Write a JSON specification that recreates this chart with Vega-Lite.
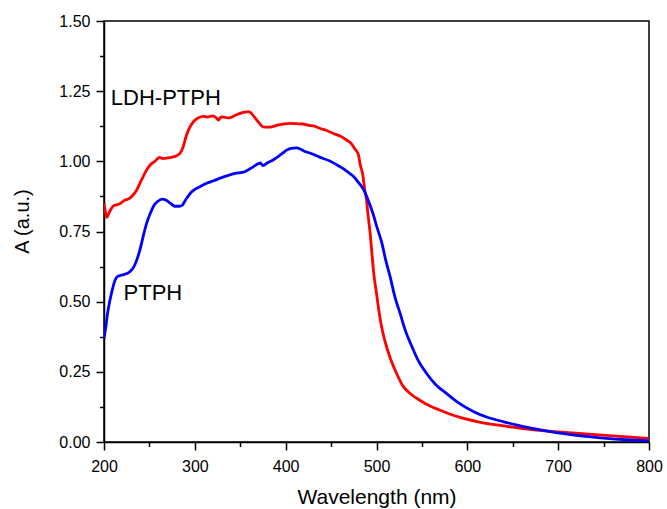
{
  "$schema": "https://vega.github.io/schema/vega-lite/v6.json",
  "width": 545,
  "height": 421,
  "autosize": {"type": "none"},
  "padding": {"left": 104, "top": 21, "right": 18, "bottom": 67},
  "background": "white",
  "config": {
    "view": {"stroke": "black", "strokeWidth": 1.5},
    "axis": {
      "domainColor": "black", "domainWidth": 1.5, "tickColor": "black", "tickWidth": 1.5,
      "labelColor": "black", "titleColor": "black", "labelFont": "Liberation Sans",
      "titleFont": "Liberation Sans", "titleFontWeight": "normal", "grid": false
    }
  },
  "layer": [
    {
      "data": {
        "values": [
          {"w":200,"A":0.85,"s":"LDH-PTPH"},{"w":201,"A":0.83,"s":"LDH-PTPH"},{"w":203,"A":0.80,"s":"LDH-PTPH"},{"w":206,"A":0.82,"s":"LDH-PTPH"},{"w":210,"A":0.84,"s":"LDH-PTPH"},{"w":214,"A":0.845,"s":"LDH-PTPH"},{"w":218,"A":0.85,"s":"LDH-PTPH"},{"w":222,"A":0.86,"s":"LDH-PTPH"},{"w":228,"A":0.868,"s":"LDH-PTPH"},{"w":232,"A":0.88,"s":"LDH-PTPH"},{"w":236,"A":0.898,"s":"LDH-PTPH"},{"w":240,"A":0.925,"s":"LDH-PTPH"},{"w":243,"A":0.945,"s":"LDH-PTPH"},{"w":247,"A":0.97,"s":"LDH-PTPH"},{"w":251,"A":0.988,"s":"LDH-PTPH"},{"w":256,"A":1.0,"s":"LDH-PTPH"},{"w":261,"A":1.014,"s":"LDH-PTPH"},{"w":265,"A":1.01,"s":"LDH-PTPH"},{"w":270,"A":1.012,"s":"LDH-PTPH"},{"w":275,"A":1.015,"s":"LDH-PTPH"},{"w":280,"A":1.02,"s":"LDH-PTPH"},{"w":284,"A":1.03,"s":"LDH-PTPH"},{"w":287,"A":1.05,"s":"LDH-PTPH"},{"w":290,"A":1.085,"s":"LDH-PTPH"},{"w":293,"A":1.111,"s":"LDH-PTPH"},{"w":296,"A":1.13,"s":"LDH-PTPH"},{"w":299,"A":1.143,"s":"LDH-PTPH"},{"w":304,"A":1.155,"s":"LDH-PTPH"},{"w":309,"A":1.16,"s":"LDH-PTPH"},{"w":314,"A":1.158,"s":"LDH-PTPH"},{"w":320,"A":1.162,"s":"LDH-PTPH"},{"w":324,"A":1.153,"s":"LDH-PTPH"},{"w":326,"A":1.147,"s":"LDH-PTPH"},{"w":329,"A":1.158,"s":"LDH-PTPH"},{"w":333,"A":1.157,"s":"LDH-PTPH"},{"w":338,"A":1.155,"s":"LDH-PTPH"},{"w":342,"A":1.16,"s":"LDH-PTPH"},{"w":346,"A":1.166,"s":"LDH-PTPH"},{"w":350,"A":1.171,"s":"LDH-PTPH"},{"w":355,"A":1.175,"s":"LDH-PTPH"},{"w":359,"A":1.177,"s":"LDH-PTPH"},{"w":362,"A":1.172,"s":"LDH-PTPH"},{"w":365,"A":1.16,"s":"LDH-PTPH"},{"w":370,"A":1.14,"s":"LDH-PTPH"},{"w":375,"A":1.123,"s":"LDH-PTPH"},{"w":380,"A":1.122,"s":"LDH-PTPH"},{"w":386,"A":1.124,"s":"LDH-PTPH"},{"w":392,"A":1.13,"s":"LDH-PTPH"},{"w":398,"A":1.133,"s":"LDH-PTPH"},{"w":405,"A":1.135,"s":"LDH-PTPH"},{"w":412,"A":1.134,"s":"LDH-PTPH"},{"w":419,"A":1.133,"s":"LDH-PTPH"},{"w":426,"A":1.128,"s":"LDH-PTPH"},{"w":432,"A":1.125,"s":"LDH-PTPH"},{"w":438,"A":1.117,"s":"LDH-PTPH"},{"w":445,"A":1.11,"s":"LDH-PTPH"},{"w":452,"A":1.1,"s":"LDH-PTPH"},{"w":460,"A":1.09,"s":"LDH-PTPH"},{"w":467,"A":1.076,"s":"LDH-PTPH"},{"w":472,"A":1.064,"s":"LDH-PTPH"},{"w":476,"A":1.045,"s":"LDH-PTPH"},{"w":480,"A":1.025,"s":"LDH-PTPH"},{"w":482,"A":0.99,"s":"LDH-PTPH"},{"w":485,"A":0.95,"s":"LDH-PTPH"},{"w":487,"A":0.9,"s":"LDH-PTPH"},{"w":489,"A":0.862,"s":"LDH-PTPH"},{"w":491,"A":0.8,"s":"LDH-PTPH"},{"w":493,"A":0.744,"s":"LDH-PTPH"},{"w":495,"A":0.67,"s":"LDH-PTPH"},{"w":497,"A":0.6,"s":"LDH-PTPH"},{"w":500,"A":0.53,"s":"LDH-PTPH"},{"w":502,"A":0.482,"s":"LDH-PTPH"},{"w":505,"A":0.42,"s":"LDH-PTPH"},{"w":509,"A":0.363,"s":"LDH-PTPH"},{"w":515,"A":0.3,"s":"LDH-PTPH"},{"w":522,"A":0.245,"s":"LDH-PTPH"},{"w":529,"A":0.2,"s":"LDH-PTPH"},{"w":537,"A":0.173,"s":"LDH-PTPH"},{"w":548,"A":0.148,"s":"LDH-PTPH"},{"w":559,"A":0.128,"s":"LDH-PTPH"},{"w":570,"A":0.113,"s":"LDH-PTPH"},{"w":582,"A":0.098,"s":"LDH-PTPH"},{"w":596,"A":0.084,"s":"LDH-PTPH"},{"w":612,"A":0.072,"s":"LDH-PTPH"},{"w":632,"A":0.061,"s":"LDH-PTPH"},{"w":650,"A":0.053,"s":"LDH-PTPH"},{"w":672,"A":0.044,"s":"LDH-PTPH"},{"w":700,"A":0.036,"s":"LDH-PTPH"},{"w":730,"A":0.029,"s":"LDH-PTPH"},{"w":760,"A":0.022,"s":"LDH-PTPH"},{"w":800,"A":0.013,"s":"LDH-PTPH"},
          {"w":200,"A":0.37,"s":"PTPH"},{"w":202,"A":0.41,"s":"PTPH"},{"w":204,"A":0.46,"s":"PTPH"},{"w":206.6,"A":0.506,"s":"PTPH"},{"w":209,"A":0.54,"s":"PTPH"},{"w":212,"A":0.575,"s":"PTPH"},{"w":215,"A":0.59,"s":"PTPH"},{"w":220,"A":0.595,"s":"PTPH"},{"w":225,"A":0.6,"s":"PTPH"},{"w":229,"A":0.608,"s":"PTPH"},{"w":233,"A":0.625,"s":"PTPH"},{"w":236,"A":0.648,"s":"PTPH"},{"w":240,"A":0.69,"s":"PTPH"},{"w":243,"A":0.731,"s":"PTPH"},{"w":247,"A":0.78,"s":"PTPH"},{"w":251,"A":0.815,"s":"PTPH"},{"w":255,"A":0.843,"s":"PTPH"},{"w":259,"A":0.857,"s":"PTPH"},{"w":264,"A":0.865,"s":"PTPH"},{"w":268,"A":0.862,"s":"PTPH"},{"w":273,"A":0.851,"s":"PTPH"},{"w":278,"A":0.84,"s":"PTPH"},{"w":283,"A":0.84,"s":"PTPH"},{"w":286,"A":0.843,"s":"PTPH"},{"w":289,"A":0.858,"s":"PTPH"},{"w":292,"A":0.873,"s":"PTPH"},{"w":296,"A":0.89,"s":"PTPH"},{"w":300,"A":0.9,"s":"PTPH"},{"w":306,"A":0.91,"s":"PTPH"},{"w":313,"A":0.922,"s":"PTPH"},{"w":320,"A":0.93,"s":"PTPH"},{"w":328,"A":0.94,"s":"PTPH"},{"w":335,"A":0.948,"s":"PTPH"},{"w":342,"A":0.955,"s":"PTPH"},{"w":350,"A":0.96,"s":"PTPH"},{"w":355,"A":0.963,"s":"PTPH"},{"w":360,"A":0.972,"s":"PTPH"},{"w":365,"A":0.982,"s":"PTPH"},{"w":370,"A":0.992,"s":"PTPH"},{"w":372,"A":0.994,"s":"PTPH"},{"w":375,"A":0.985,"s":"PTPH"},{"w":380,"A":0.995,"s":"PTPH"},{"w":386,"A":1.005,"s":"PTPH"},{"w":392,"A":1.018,"s":"PTPH"},{"w":397,"A":1.03,"s":"PTPH"},{"w":401,"A":1.04,"s":"PTPH"},{"w":406,"A":1.046,"s":"PTPH"},{"w":412,"A":1.048,"s":"PTPH"},{"w":416,"A":1.044,"s":"PTPH"},{"w":420,"A":1.037,"s":"PTPH"},{"w":428,"A":1.028,"s":"PTPH"},{"w":438,"A":1.014,"s":"PTPH"},{"w":448,"A":1.002,"s":"PTPH"},{"w":455,"A":0.99,"s":"PTPH"},{"w":463,"A":0.975,"s":"PTPH"},{"w":470,"A":0.958,"s":"PTPH"},{"w":475,"A":0.945,"s":"PTPH"},{"w":480,"A":0.925,"s":"PTPH"},{"w":486,"A":0.898,"s":"PTPH"},{"w":491,"A":0.86,"s":"PTPH"},{"w":496,"A":0.815,"s":"PTPH"},{"w":501,"A":0.76,"s":"PTPH"},{"w":506,"A":0.708,"s":"PTPH"},{"w":510,"A":0.65,"s":"PTPH"},{"w":515,"A":0.589,"s":"PTPH"},{"w":520,"A":0.52,"s":"PTPH"},{"w":526,"A":0.458,"s":"PTPH"},{"w":532,"A":0.395,"s":"PTPH"},{"w":539,"A":0.34,"s":"PTPH"},{"w":546,"A":0.29,"s":"PTPH"},{"w":555,"A":0.245,"s":"PTPH"},{"w":565,"A":0.205,"s":"PTPH"},{"w":577,"A":0.173,"s":"PTPH"},{"w":590,"A":0.14,"s":"PTPH"},{"w":607,"A":0.108,"s":"PTPH"},{"w":622,"A":0.088,"s":"PTPH"},{"w":640,"A":0.072,"s":"PTPH"},{"w":655,"A":0.06,"s":"PTPH"},{"w":670,"A":0.049,"s":"PTPH"},{"w":690,"A":0.038,"s":"PTPH"},{"w":710,"A":0.028,"s":"PTPH"},{"w":730,"A":0.02,"s":"PTPH"},{"w":750,"A":0.014,"s":"PTPH"},{"w":775,"A":0.008,"s":"PTPH"},{"w":800,"A":0.004,"s":"PTPH"}
        ]
      },
      "mark": {"type": "line", "strokeWidth": 2.8, "interpolate": "monotone", "clip": true},
      "encoding": {
        "x": {"field": "w", "type": "quantitative", "scale": {"domain": [200, 800], "nice": false},
          "axis": {"title": "Wavelength (nm)", "values": [200,300,400,500,600,700,800], "tickSize": 8, "labelPadding": 8,
            "labelFontSize": 16, "titleFontSize": 21, "titleY": 61, "titleBaseline": "alphabetic", "labelFlush": false}},
        "y": {"field": "A", "type": "quantitative", "scale": {"domain": [0, 1.5], "nice": false},
          "axis": {"title": "A (a.u.)", "values": [0,0.25,0.5,0.75,1,1.25,1.5], "format": ".2f", "tickSize": 8, "labelPadding": 6,
            "labelFontSize": 16, "titleFontSize": 20, "titleX": -82, "titleY": 200, "titleBaseline": "middle", "titleAlign": "center", "titleAngle": -90}},
        "color": {"field": "s", "type": "nominal", "scale": {"domain": ["LDH-PTPH", "PTPH"], "range": ["#FF0000", "#0000FF"]}, "legend": null},
        "detail": {"field": "s"}
      }
    },
    {
      "data": {"values": [{"w": 207.5, "A": 1.225, "t": "LDH-PTPH"}, {"w": 221.5, "A": 0.53, "t": "PTPH"}]},
      "mark": {"type": "text", "font": "Liberation Sans", "fontSize": 22, "align": "left", "baseline": "middle", "color": "black"},
      "encoding": {
        "x": {"field": "w", "type": "quantitative", "scale": {"domain": [200, 800], "nice": false},
          "axis": {"orient": "bottom", "title": null, "labels": false, "domain": false, "values": [250,350,450,550,650,750], "tickSize": 4.5}},
        "y": {"field": "A", "type": "quantitative", "scale": {"domain": [0, 1.5], "nice": false},
          "axis": {"orient": "left", "title": null, "labels": false, "domain": false, "values": [0.125,0.375,0.625,0.875,1.125,1.375], "tickSize": 4.5}},
        "text": {"field": "t"}
      }
    }
  ],
  "resolve": {"axis": {"x": "independent", "y": "independent"}}
}
